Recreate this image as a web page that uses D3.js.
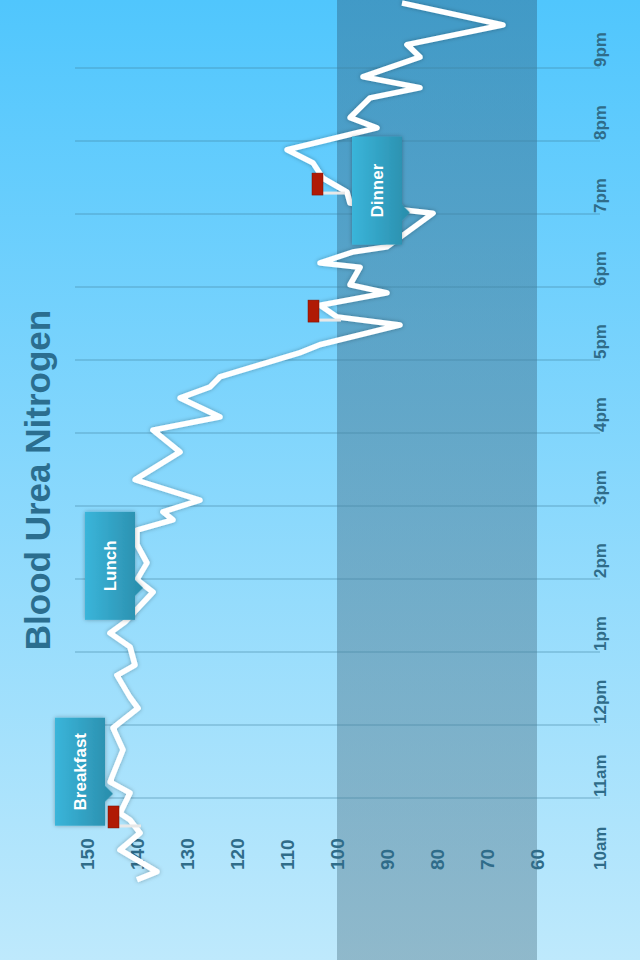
<!DOCTYPE html>
<meta charset="utf-8">
<script src="https://d3js.org/d3.v7.min.js"></script>
<style>
body { margin: 0; }
svg { display: block; font-family: "Liberation Sans", Arial, sans-serif; }
</style>
<body>
</body>
<script>

// data: hour of day (decimal), blood urea nitrogen value
var hours = [9.88, 9.99, 10.29, 10.52, 10.70, 10.79, 11.07, 11.22, 11.66, 11.96, 12.23, 12.38, 12.68, 12.82, 13.07,
  13.26, 13.41, 13.82, 13.99, 14.22, 14.47, 14.67, 14.81, 14.92, 15.08, 15.36, 15.74, 16.04, 16.22, 16.48, 16.63,
  16.77, 17.10, 17.21, 17.48, 17.59, 17.75, 17.92, 18.03, 18.27, 18.33, 18.48, 18.55, 19.01, 19.05, 19.15, 19.30,
  19.49, 19.70, 19.88, 20.18, 20.32, 20.59, 20.73, 20.88, 21.15, 21.32, 21.59, 21.89];
var values = [140, 136, 143.4, 139.4, 141.4, 143.4, 141.4, 145.4, 142.8, 144.8, 139.8, 141.4, 144, 140.4, 141.4,
  145.4, 142.4, 136.8, 140, 138, 140, 140, 132.8, 134.8, 127.4, 140.4, 131.4, 136.8, 123.4, 131.4, 125.4,
  123.4, 107.4, 103.4, 87.4, 100, 103.4, 90, 97.4, 95.4, 103.4, 96.8, 90, 80.8, 86, 97.4, 98,
  102.8, 104.8, 110, 92, 97.4, 93.4, 83.4, 94.8, 83.4, 86, 66.8, 87];

var hourTicks = [10, 11, 12, 13, 14, 15, 16, 17, 18, 19, 20, 21];
var hourLabels = ["10am", "11am", "12pm", "1pm", "2pm", "3pm", "4pm", "5pm", "6pm", "7pm", "8pm", "9pm"];
var valueTicks = [150, 140, 130, 120, 110, 100, 90, 80, 70, 60];
var normalRange = [100, 60];

var meals = ["Breakfast", "Lunch", "Dinner"];
var mealHours = [11.36, 14.18, 19.32];
var mealValues = [151.4, 145.4, 92];

var markerHours = [10.74, 17.67, 19.41];
var markerValues = [144.8, 104.8, 104];

var W = 640, H = 960;

var svg = d3.select("body").append("svg")
  .attr("width", W)
  .attr("height", H);

var defs = svg.append("defs");
var bg = defs.append("linearGradient").attr("id", "bg").attr("x1", 0).attr("y1", 0).attr("x2", 0).attr("y2", 1);
bg.append("stop").attr("offset", "0%").attr("stop-color", "#50c6fd");
bg.append("stop").attr("offset", "100%").attr("stop-color", "#bee9fc");

var band = defs.append("linearGradient").attr("id", "band").attr("x1", 0).attr("y1", 0).attr("x2", 0).attr("y2", 1);
band.append("stop").attr("offset", "0%").attr("stop-color", "#2c5d7c").attr("stop-opacity", 0.42);
band.append("stop").attr("offset", "100%").attr("stop-color", "#4f7688").attr("stop-opacity", 0.42);

// inner y maps to screen x, so this runs light (screen left) to dark (screen right)
var box = defs.append("linearGradient").attr("id", "box").attr("x1", 0).attr("y1", 0).attr("x2", 0).attr("y2", 1);
box.append("stop").attr("offset", "0%").attr("stop-color", "#3ab5da");
box.append("stop").attr("offset", "100%").attr("stop-color", "#2a8dab");

var shadow = defs.append("filter").attr("id", "shadow").attr("x", "-20%").attr("y", "-20%").attr("width", "140%").attr("height", "140%");
shadow.append("feDropShadow").attr("dx", 0).attr("dy", 0).attr("stdDeviation", 2).attr("flood-opacity", 0.3);

svg.append("rect").attr("width", W).attr("height", H).attr("fill", "url(#bg)");

var xScale = d3.scaleLinear().domain([10, 21]).range([89, 892]);
var yScale = d3.scaleLinear().domain([150, 60]).range([87, 537]);

// normal range band (behind everything else)
svg.append("rect")
  .attr("x", yScale(normalRange[0]))
  .attr("y", 0)
  .attr("width", yScale(normalRange[1]) - yScale(normalRange[0]))
  .attr("height", H)
  .attr("fill", "url(#band)");

// whole chart is drawn turned a quarter turn: time along inner x, value along inner y
var g = svg.append("g")
  .attr("transform", "translate(0," + H + ") rotate(-90)");

// grid lines
g.selectAll(".grid")
  .data(hourTicks.slice(1))
  .enter().append("line")
  .attr("class", "grid")
  .attr("x1", function(d) { return xScale(d); })
  .attr("x2", function(d) { return xScale(d); })
  .attr("y1", 75)
  .attr("y2", 600)
  .attr("stroke", "#3f7f9f")
  .attr("stroke-opacity", 0.55)
  .attr("stroke-width", 1);

// time labels
g.selectAll(".hour")
  .data(hourTicks)
  .enter().append("text")
  .attr("class", "hour")
  .attr("x", function(d) { return xScale(d) + 1; })
  .attr("y", 600)
  .attr("dy", "0.35em")
  .attr("font-size", 17)
  .attr("font-weight", "bold")
  .attr("fill", "#2f6c89")
  .text(function(d, i) { return hourLabels[i]; });

// value labels
g.selectAll(".val")
  .data(valueTicks)
  .enter().append("text")
  .attr("class", "val")
  .attr("x", 90)
  .attr("y", function(d) { return yScale(d); })
  .attr("dy", "0.35em")
  .attr("font-size", 19)
  .attr("font-weight", "bold")
  .attr("fill", "#2f6c89")
  .text(function(d) { return d; });

// title
g.append("text")
  .attr("x", 480)
  .attr("y", 38)
  .attr("dy", "0.35em")
  .attr("text-anchor", "middle")
  .attr("font-size", 35)
  .attr("font-weight", "bold")
  .attr("fill", "#2b6e8f")
  .text("Blood Urea Nitrogen");

// the trace
var line = d3.line()
  .x(function(d) { return xScale(d[0]); })
  .y(function(d) { return yScale(d[1]); });

g.append("path")
  .datum(d3.zip(hours, values))
  .attr("d", line)
  .attr("fill", "none")
  .attr("stroke", "#fff")
  .attr("stroke-width", 5.5)
  .attr("stroke-linejoin", "round")
  .attr("filter", "url(#shadow)");

// red markers with a short grey stem
var markers = g.selectAll(".marker")
  .data(d3.zip(markerHours, markerValues))
  .enter().append("g")
  .attr("class", "marker")
  .attr("transform", function(d) { return "translate(" + xScale(d[0]) + "," + yScale(d[1]) + ")"; });

markers.append("line")
  .attr("x1", -9).attr("x2", -9)
  .attr("y1", 0).attr("y2", 28)
  .attr("stroke", "#e8e8e8")
  .attr("stroke-width", 3);

markers.append("rect")
  .attr("x", -11).attr("y", -5)
  .attr("width", 22).attr("height", 11)
  .attr("fill", "#b01a05")
  .attr("stroke", "#7a1000")
  .attr("stroke-width", 0.5);

// meal callouts
var bw = 108, bh = 50;
var callouts = g.selectAll(".meal")
  .data(d3.zip(meals, mealHours, mealValues))
  .enter().append("g")
  .attr("class", "meal")
  .attr("transform", function(d) { return "translate(" + xScale(d[1]) + "," + yScale(d[2]) + ")"; });

callouts.append("path")
  .attr("d", "M" + (-bw / 2) + "," + (-bh / 2) + "H" + (bw / 2) + "V" + (bh / 2) +
    "H" + (-bw / 2 + 40) + "L" + (-bw / 2 + 32) + "," + (bh / 2 + 8) + "L" + (-bw / 2 + 24) + "," + (bh / 2) +
    "H" + (-bw / 2) + "Z")
  .attr("fill", "url(#box)")
  .attr("filter", "url(#shadow)");

callouts.append("text")
  .attr("y", 0)
  .attr("dy", "0.35em")
  .attr("text-anchor", "middle")
  .attr("font-size", 17)
  .attr("font-weight", "bold")
  .attr("fill", "#fff")
  .text(function(d) { return d[0]; });

</script>
